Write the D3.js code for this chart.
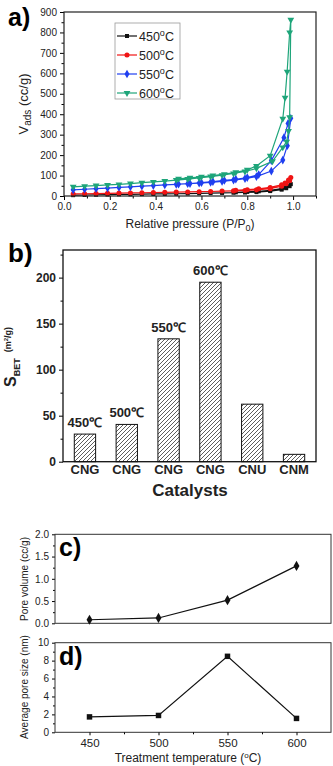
<!DOCTYPE html>
<html>
<head>
<meta charset="utf-8">
<script src="https://cdn.jsdelivr.net/npm/d3@7"></script>
<style>
  body { margin: 0; background: #fff; }
  svg { display: block; font-family: "Liberation Sans", Arial, sans-serif; }
</style>
</head>
<body>
<script>
// ---- a) N2 isotherms ----
const pLow = [0.04,0.09,0.14,0.19,0.24,0.29,0.34,0.39,0.44,0.49,0.54,0.59,0.64,0.69,0.74,0.79,0.84];

const v450Ads = [4,5,6,7,8,8,9,10,10,11,12,13,14,15,16,17,19];
const p450High = [0.90,0.95,0.97,0.985,0.99];
const v450High = [24,31,38,48,58];
const p450Des = [0.98,0.965,0.95,0.90,0.85,0.80,0.75];
const v450Des = [50,42,36,28,23,20,18];

const v500Ads = [10,11,12,13,14,15,16,17,18,19,20,21,22,24,25,27,30];
const p500High = [0.90,0.95,0.97,0.985,0.99];
const v500High = [36,48,60,75,90];
const p500Des = [0.98,0.965,0.95,0.90,0.85,0.80,0.75];
const v500Des = [78,64,55,42,35,31,28];

const v550Ads = [30,33,36,39,42,45,48,51,54,57,60,63,67,72,78,85,95];
const p550High = [0.905,0.955,0.975,0.99];
const v550High = [122,176,246,380];
const p550Des = [0.978,0.96,0.905,0.85,0.80,0.75,0.70,0.65,0.60,0.55,0.50];
const v550Des = [355,285,173,105,90,82,76,70,65,61,58];

const v600Ads = [45,48,51,54,57,61,65,69,73,78,83,88,95,102,110,120,135];
const p600High = [0.91,0.955,0.972,0.98,0.985,0.99];
const v600High = [170,238,266,318,385,862];
const p600Des = [0.985,0.974,0.965,0.955,0.90,0.84,0.80,0.75,0.70,0.65,0.60,0.55,0.50];
const v600Des = [800,608,481,378,197,147,128,116,107,100,94,89,84];

const isoLabels = ["450", "500", "550", "600"];

// ---- b) BET surface area ----
const catLabels = ["CNG","CNG","CNG","CNG","CNU","CNM"];
const sbet = [30, 40.5, 133.5, 195, 62.5, 8];
const barTemps = ["450℃","500℃","550℃","600℃","",""];

// ---- c), d) pore volume / pore size ----
const temps = [450, 500, 550, 600];
const poreVol = [0.08, 0.12, 0.52, 1.29];
const poreSize = [1.72, 1.88, 8.48, 1.55];

const W = 333, H = 766;
const svg = d3.select("body").append("svg")
    .attr("width", W).attr("height", H);
svg.append("rect").attr("width", W).attr("height", H).attr("fill", "#fff");

function pts(pa, va) { return pa.map((p, i) => ({p: p, v: va[i]})); }
const series = [
  { pts: pts(pLow, v450Ads).concat(pts(p450High, v450High), pts(p450Des, v450Des)), color: "#111", shape: d3.symbolSquare, size: 16 },
  { pts: pts(pLow, v500Ads).concat(pts(p500High, v500High), pts(p500Des, v500Des)), color: "#f01414", shape: d3.symbolCircle, size: 20 },
  { pts: pts(pLow, v550Ads).concat(pts(p550High, v550High), pts(p550Des, v550Des)), color: "#1f3ff0", shape: d3.symbolDiamond, size: 22 },
  { pts: pts(pLow, v600Ads).concat(pts(p600High, v600High), pts(p600Des, v600Des)), color: "#1ea57a", shape: d3.symbolTriangle, size: 20, flip: true }
];

// ---------- panel a ----------
const ax = d3.scaleLinear().domain([0, 1.1]).range([64, 316]);
const ay = d3.scaleLinear().domain([0, 900]).range([196, 12]);

const ga = svg.append("g").style("font-size", "12px");

ga.append("g")
    .attr("transform", `translate(0,${ay(0)})`)
    .call(d3.axisBottom(ax).tickValues(d3.range(0, 1.01, 0.2)).tickFormat(d3.format(".1f")).tickSize(4).tickSizeOuter(0))
    .call(g => g.select(".domain").remove());
ga.append("g")
    .attr("transform", `translate(0,${ay(0)})`)
    .call(d3.axisBottom(ax).tickValues(d3.range(0.1, 1.11, 0.2)).tickFormat("").tickSize(2.5).tickSizeOuter(0))
    .call(g => g.select(".domain").remove());
ga.append("g")
    .attr("transform", `translate(${ax(0)},0)`)
    .call(d3.axisLeft(ay).tickValues(d3.range(0, 901, 100)).tickSize(4).tickSizeOuter(0))
    .call(g => g.select(".domain").remove());
ga.append("g")
    .attr("transform", `translate(${ax(0)},0)`)
    .call(d3.axisLeft(ay).tickValues(d3.range(50, 900, 100)).tickFormat("").tickSize(2.5).tickSizeOuter(0))
    .call(g => g.select(".domain").remove());
ga.selectAll(".tick text").attr("font-family", null).attr("font-size", null).attr("fill", "#222");

const line = d3.line().x(d => ax(d.p)).y(d => ay(d.v));
for (const s of series) {
  ga.append("path").attr("d", line(s.pts))
      .attr("fill", "none").attr("stroke", s.color).attr("stroke-width", 1.2);
  ga.append("g").selectAll("path")
    .data(s.pts)
    .join("path")
      .attr("d", d3.symbol(s.shape, s.size))
      .attr("transform", d => `translate(${ax(d.p)},${ay(d.v)})${s.flip ? " rotate(180)" : ""}`)
      .attr("fill", s.color);
}

ga.append("rect")
    .attr("x", ax(0)).attr("y", ay(900))
    .attr("width", ax(1.1) - ax(0)).attr("height", ay(0) - ay(900))
    .attr("fill", "none").attr("stroke", "#222").attr("stroke-width", 1.2);

// legend
const leg = ga.append("g").attr("transform", "translate(115,23)");
leg.append("rect").attr("width", 65).attr("height", 76)
    .attr("fill", "#fff").attr("stroke", "#999").attr("stroke-width", 0.8);
series.forEach((s, i) => {
  const yy = 13 + i * 19;
  leg.append("line").attr("x1", 2).attr("x2", 22).attr("y1", yy).attr("y2", yy)
      .attr("stroke", s.color).attr("stroke-width", 1.2);
  leg.append("path").attr("d", d3.symbol(s.shape, s.size))
      .attr("transform", `translate(12,${yy})${s.flip ? " rotate(180)" : ""}`)
      .attr("fill", s.color);
  const t = leg.append("text").attr("x", 24).attr("y", yy + 4.5).attr("fill", "#222").style("font-size", "12.5px");
  t.append("tspan").text(isoLabels[i]);
  t.append("tspan").attr("dy", -5).style("font-size", "9px").text("o");
  t.append("tspan").attr("dy", 5).text("C");
});

const ayl = ga.append("text")
    .attr("transform", "translate(28,104) rotate(-90)")
    .attr("text-anchor", "middle").attr("fill", "#222").style("font-size", "13px");
ayl.append("tspan").text("V");
ayl.append("tspan").attr("dy", 3).style("font-size", "10px").text("ads");
ayl.append("tspan").attr("dy", -3).text(" (cc/g)");

const axl = ga.append("text").attr("x", 190).attr("y", 228)
    .attr("text-anchor", "middle").attr("fill", "#222").style("font-size", "12px");
axl.append("tspan").text("Relative pressure (P/P");
axl.append("tspan").attr("dy", 3).style("font-size", "9px").text("0");
axl.append("tspan").attr("dy", -3).text(")");

svg.append("text").attr("x", 8).attr("y", 26)
    .style("font-size", "25px").style("font-weight", "bold").text("a)");

// ---------- panel b ----------
const defs = svg.append("defs");
defs.append("pattern")
    .attr("id", "hatch").attr("patternUnits", "userSpaceOnUse")
    .attr("width", 4).attr("height", 4)
  .append("path")
    .attr("d", "M-1,1 l2,-2 M0,4 l4,-4 M3,5 l2,-2")
    .attr("stroke", "#333").attr("stroke-width", 0.8);

const bx = d3.scaleBand().domain(d3.range(catLabels.length))
    .range([63, 316]).paddingInner(0.49).paddingOuter(0.27);
const by = d3.scaleLinear().domain([0, 230]).range([461.7, 250]);

const gb = svg.append("g").style("font-weight", "bold");

gb.append("g")
    .attr("transform", `translate(63,0)`)
    .call(d3.axisLeft(by).tickValues(d3.range(0, 201, 50)).tickSize(4).tickSizeOuter(0))
    .call(g => g.select(".domain").remove())
    .call(g => g.selectAll("text").attr("font-family", null).attr("font-size", null).style("font-size", "12px").attr("fill", "#222"));
gb.append("g")
    .attr("transform", `translate(63,0)`)
    .call(d3.axisLeft(by).tickValues(d3.range(25, 230, 50)).tickFormat("").tickSize(2.5).tickSizeOuter(0))
    .call(g => g.select(".domain").remove());

gb.append("g").selectAll("rect")
  .data(sbet)
  .join("rect")
    .attr("x", (d, i) => bx(i))
    .attr("y", d => by(d))
    .attr("width", bx.bandwidth())
    .attr("height", d => by(0) - by(d))
    .attr("fill", "url(#hatch)")
    .attr("stroke", "#111").attr("stroke-width", 1);

gb.append("g").selectAll("text")
  .data(sbet)
  .join("text")
    .attr("x", (d, i) => bx(i) + bx.bandwidth() / 2)
    .attr("y", d => by(d) - 7)
    .attr("text-anchor", "middle").attr("fill", "#222")
    .style("font-size", "13px")
    .text((d, i) => barTemps[i]);

gb.append("g")
    .attr("transform", `translate(0,${by(0)})`)
    .call(d3.axisBottom(bx).tickSize(0).tickPadding(3).tickFormat(i => catLabels[i]))
    .call(g => g.select(".domain").remove())
    .call(g => g.selectAll("text").attr("font-family", null).attr("font-size", null).style("font-size", "13px").attr("fill", "#222"));

gb.append("rect")
    .attr("x", 63).attr("y", by(230))
    .attr("width", 316 - 63).attr("height", by(0) - by(230))
    .attr("fill", "none").attr("stroke", "#111").attr("stroke-width", 1.3);

gb.append("text").attr("x", 190).attr("y", 496)
    .attr("text-anchor", "middle").attr("fill", "#222")
    .style("font-size", "17px").text("Catalysts");

const byl = gb.append("text")
    .attr("transform", "translate(16,357) rotate(-90)")
    .attr("text-anchor", "middle").attr("fill", "#222");
byl.append("tspan").style("font-size", "16px").text("S");
byl.append("tspan").attr("dy", 4).style("font-size", "9px").text("BET");
byl.append("tspan").attr("dy", -9).attr("dx", 6).style("font-size", "9px").text("(m");
byl.append("tspan").attr("dy", -3).style("font-size", "6px").text("2");
byl.append("tspan").attr("dy", 3).style("font-size", "9px").text("/g)");

svg.append("text").attr("x", 8).attr("y", 262)
    .style("font-size", "26px").style("font-weight", "bold").text("b)");

// ---------- panels c, d ----------
const tx = d3.scaleLinear().domain([425, 625]).range([55, 331]);
const cy = d3.scaleLinear().domain([0, 2]).range([623.3, 534.3]);
const dy = d3.scaleLinear().domain([0, 10]).range([732.3, 642.7]);

function smallPanel(yScale, ticks, minor, fmt, vals, shape, label, yTitle, titleY) {
  const g = svg.append("g").style("font-size", "11px");
  g.append("g").attr("transform", `translate(55,0)`)
      .call(d3.axisLeft(yScale).tickValues(ticks).tickFormat(fmt).tickSize(3).tickSizeOuter(0))
      .call(s => s.select(".domain").remove());
  g.append("g").attr("transform", `translate(55,0)`)
      .call(d3.axisLeft(yScale).tickValues(minor).tickFormat("").tickSize(2).tickSizeOuter(0))
      .call(s => s.select(".domain").remove());
  g.selectAll(".tick text").attr("font-family", null).attr("font-size", null).attr("fill", "#222");
  g.append("rect")
      .attr("x", 55).attr("y", yScale.range()[1])
      .attr("width", 331 - 55).attr("height", yScale.range()[0] - yScale.range()[1])
      .attr("fill", "none").attr("stroke", "#333").attr("stroke-width", 1);
  const ln = d3.line().x((d, i) => tx(temps[i])).y(d => yScale(d));
  g.append("path").attr("d", ln(vals))
      .attr("fill", "none").attr("stroke", "#111").attr("stroke-width", 1.2);
  g.append("g").selectAll("path")
    .data(vals)
    .join("path")
      .attr("d", d3.symbol(shape, 30))
      .attr("transform", (d, i) => `translate(${tx(temps[i])},${yScale(d)})`)
      .attr("fill", "#111");
  svg.append("text").attr("x", 59).attr("y", yScale.range()[1] + 22)
      .style("font-size", "25px").style("font-weight", "bold").text(label);
  g.append("text")
      .attr("transform", `translate(28,${titleY}) rotate(-90)`)
      .attr("text-anchor", "middle").attr("fill", "#222")
      .style("font-size", "10px").text(yTitle);
  return g;
}

smallPanel(cy, d3.range(0, 2.01, 0.5), d3.range(0.25, 2, 0.5), d3.format(".1f"), poreVol,
    d3.symbolDiamond, "c)", "Pore volume (cc/g)", 579);
const gd = smallPanel(dy, d3.range(0, 10.1, 2), d3.range(1, 10, 2), d3.format("d"), poreSize,
    d3.symbolSquare, "d)", "Average pore size (nm)", 687);

gd.append("g").attr("transform", `translate(0,${dy(0)})`)
    .call(d3.axisBottom(tx).tickValues(temps).tickSize(3).tickPadding(4).tickSizeOuter(0))
    .call(s => s.select(".domain").remove())
    .call(s => s.selectAll("text").attr("font-family", null).attr("font-size", null).attr("fill", "#222").style("font-size", "11.5px"));
gd.append("g").attr("transform", `translate(0,${dy(0)})`)
    .call(d3.axisBottom(tx).tickValues([475, 525, 575]).tickFormat("").tickSize(2).tickSizeOuter(0))
    .call(s => s.select(".domain").remove());

const dxl = gd.append("text").attr("x", 188).attr("y", 762)
    .attr("text-anchor", "middle").attr("fill", "#222").style("font-size", "12px");
dxl.append("tspan").text("Treatment temperature (");
dxl.append("tspan").attr("dy", -4).style("font-size", "8px").text("o");
dxl.append("tspan").attr("dy", 4).text("C)");
</script>
</body>
</html>
